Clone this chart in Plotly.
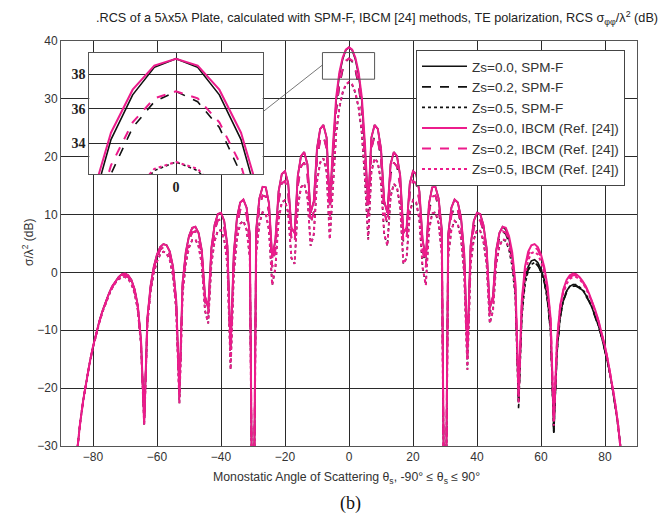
import plotly.graph_objects as go

angles = list(range(-86, 87))

# ---- Zs=0.0, IBCM (pink solid) ----
ibcm_z00 = [
    -36.4, -30.6, -25.9, -21.9, -18.5, -15.5, -12.8,
    -10.5, -8.4, -6.6, -5.0, -3.6, -2.4, -1.5, -0.8, -0.3, -0.2,
    -0.5, -1.3, -2.9, -5.7, -11.7, -25.7, -7.9, -2.3, 1.0, 3.1,
    4.4, 4.9, 4.7, 3.6, 1.0, -4.8, -20.8, -1.8, 3.5, 6.3,
    7.7, 7.9, 6.8, 3.8, -4.1, -6.2, 4.2, 8.2, 10.1, 10.3,
    8.9, 4.6, -13.4, 3.3, 9.5, 12.1, 12.6, 11.2, 6.6, -60,
    7.4, 12.8, 14.8, 14.7, 11.9, 2.5, 5.6, 14.0, 17.0, 17.5,
    15.4, 7.7, 6.8, 16.7, 20.1, 20.8, 18.7, 10.3, 12.3, 21.4,
    24.8, 25.5, 23.3, 11.6, 22.1, 30.3, 34.6, 37.1, 38.5,
    38.9, 38.5, 37.1, 34.6, 30.3, 22.1, 11.6, 23.3, 25.5, 24.8,
    21.4, 12.3, 10.3, 18.7, 20.8, 20.1, 16.7, 6.8, 7.7, 15.4,
    17.5, 17.0, 14.0, 5.6, 2.5, 11.9, 14.7, 14.8, 12.8, 7.4,
    -60, 6.6, 11.2, 12.6, 12.1, 9.5, 3.3, -13.4, 4.6, 8.9,
    10.3, 10.1, 8.2, 4.2, -6.2, -4.1, 3.8, 6.8, 7.9, 7.7,
    6.3, 3.5, -1.8, -20.8, -4.8, 1.0, 3.6, 4.7, 4.9, 4.4,
    3.1, 1.0, -2.3, -7.9, -25.7, -11.7, -5.7, -2.9, -1.3, -0.5,
    -0.2, -0.3, -0.8, -1.5, -2.4, -3.6, -5.0, -6.6, -8.4, -10.5,
    -12.8, -15.5, -18.5, -21.9, -25.9, -30.6, -36.4,
]

# ---- Zs=0.0, SPM-F (black solid) ----
spm_z00 = [
    -36.4, -30.6, -25.9, -21.9, -18.5, -15.5, -12.8,
    -10.5, -8.4, -6.6, -5.0, -3.6, -2.4, -1.5, -0.8, -0.3, -0.2,
    -0.5, -1.3, -2.9, -5.7, -11.7, -25.7, -7.9, -2.3, 1.0, 3.1,
    4.4, 4.9, 4.7, 3.6, 1.0, -4.8, -20.8, -1.8, 3.5, 6.3,
    7.7, 7.9, 6.8, 3.8, -4.1, -6.2, 4.2, 8.2, 10.1, 10.3,
    8.9, 4.6, -13.4, 3.3, 9.5, 12.1, 12.6, 11.2, 6.6, -60,
    7.4, 12.8, 14.8, 14.7, 11.9, 2.5, 5.6, 14.0, 17.0, 17.5,
    15.4, 7.7, 6.8, 16.7, 20.1, 20.8, 18.7, 10.3, 12.3, 21.4,
    24.8, 25.5, 23.3, 11.6, 21.3, 29.7, 34.2, 36.8, 38.4,
    38.9, 38.4, 36.8, 34.2, 29.7, 21.3, 11.6, 23.3, 25.5, 24.8,
    21.4, 12.3, 10.3, 18.7, 20.8, 20.1, 16.7, 6.8, 7.7, 15.4,
    17.5, 17.0, 14.0, 5.6, 2.5, 11.9, 14.7, 14.8, 12.8, 7.4,
    -60, 6.6, 11.2, 12.6, 12.1, 9.5, 3.3, -13.4, 4.6, 8.9,
    10.3, 10.1, 8.2, 4.2, -6.2, -4.1, 3.8, 6.8, 7.9, 7.4,
    5.8, 2.7, -3.0, -22.3, -6.6, -1.1, 1.0, 2.0, 2.2, 1.7,
    0.6, -1.2, -4.4, -9.9, -27.6, -13.5, -7.5, -4.7, -3.2, -2.4,
    -2.1, -2.2, -2.6, -3.1, -3.9, -4.9, -6.2, -7.7, -9.3, -11.3,
    -13.4, -16.0, -18.9, -22.2, -26.1, -30.7, -36.4,
]

# ---- Zs=0.2, IBCM (pink dashed) ----
ibcm_z02 = [
    -36.4, -30.6, -25.9, -21.9, -18.5, -15.5, -12.9,
    -10.5, -8.5, -6.7, -5.1, -3.7, -2.5, -1.6, -0.9, -0.5, -0.5,
    -0.8, -1.6, -3.1, -6.0, -12.1, -26.0, -8.3, -2.7, 0.6, 2.6,
    3.9, 4.4, 4.2, 3.0, 0.4, -5.5, -21.5, -2.5, 2.8, 5.6,
    6.9, 7.1, 6.0, 3.0, -5.0, -7.2, 3.2, 7.2, 9.0, 9.2,
    7.7, 3.5, -14.6, 2.0, 8.2, 10.8, 11.3, 9.9, 5.2, -60,
    5.9, 11.3, 13.3, 13.1, 10.4, 0.9, 4.0, 12.3, 15.4, 15.8,
    13.7, 6.0, 5.1, 14.9, 18.3, 19.0, 16.9, 8.4, 10.5, 19.6,
    22.9, 23.6, 21.4, 9.7, 20.1, 28.4, 32.7, 35.2, 36.6,
    37.0, 36.6, 35.2, 32.7, 28.4, 20.1, 9.7, 21.4, 23.6, 22.9,
    19.6, 10.5, 8.4, 16.9, 19.0, 18.3, 14.9, 5.1, 6.0, 13.7,
    15.8, 15.4, 12.3, 4.0, 0.9, 10.4, 13.1, 13.3, 11.3, 5.9,
    -60, 5.2, 9.9, 11.3, 10.8, 8.2, 2.0, -14.6, 3.5, 7.7,
    9.2, 9.0, 7.2, 3.2, -7.2, -5.0, 3.0, 6.0, 7.1, 6.9,
    5.6, 2.8, -2.5, -21.5, -5.5, 0.4, 3.0, 4.2, 4.4, 3.9,
    2.6, 0.6, -2.7, -8.3, -26.0, -12.1, -6.0, -3.1, -1.6, -0.8,
    -0.5, -0.5, -0.9, -1.6, -2.5, -3.7, -5.1, -6.7, -8.5, -10.5,
    -12.9, -15.5, -18.5, -21.9, -25.9, -30.6, -36.4,
]

# ---- Zs=0.2, SPM-F (black dashed) ----
spm_z02 = [
    -36.4, -30.6, -25.9, -21.9, -18.5, -15.5, -12.9,
    -10.5, -8.5, -6.7, -5.1, -3.7, -2.5, -1.6, -0.9, -0.5, -0.5,
    -0.8, -1.6, -3.1, -6.0, -12.1, -26.0, -8.3, -2.7, 0.6, 2.6,
    3.9, 4.4, 4.2, 3.0, 0.4, -5.5, -21.5, -2.5, 2.8, 5.6,
    6.9, 7.1, 6.0, 3.0, -5.0, -7.2, 3.2, 7.2, 9.0, 9.2,
    7.7, 3.5, -14.6, 2.0, 8.2, 10.8, 11.3, 9.9, 5.2, -60,
    5.9, 11.3, 13.3, 13.1, 10.4, 0.9, 4.0, 12.3, 15.4, 15.8,
    13.7, 6.0, 5.1, 14.9, 18.3, 19.0, 16.9, 8.4, 10.5, 19.6,
    22.9, 23.6, 21.4, 9.7, 19.5, 27.8, 32.2, 34.9, 36.4,
    37.0, 36.4, 34.9, 32.2, 27.8, 19.5, 9.7, 21.4, 23.6, 22.9,
    19.6, 10.5, 8.4, 16.9, 19.0, 18.3, 14.9, 5.1, 6.0, 13.7,
    15.8, 15.4, 12.3, 4.0, 0.9, 10.4, 13.1, 13.3, 11.3, 5.9,
    -60, 5.2, 9.9, 11.3, 10.8, 8.2, 2.0, -14.6, 3.5, 7.7,
    9.2, 9.0, 7.2, 3.2, -7.2, -5.0, 3.0, 6.0, 7.1, 6.6,
    5.1, 2.0, -3.7, -23.0, -7.3, -1.7, 0.4, 1.5, 1.7, 1.2,
    0.1, -1.6, -4.8, -10.3, -27.9, -13.9, -7.8, -4.9, -3.5, -2.7,
    -2.4, -2.4, -2.7, -3.2, -4.0, -5.0, -6.3, -7.7, -9.4, -11.3,
    -13.5, -16.0, -18.9, -22.2, -26.1, -30.7, -36.4,
]

# ---- Zs=0.5, IBCM (pink dotted) ----
ibcm_z05 = [
    -36.4, -30.7, -25.9, -22.0, -18.6, -15.6, -13.0,
    -10.6, -8.6, -6.8, -5.2, -3.9, -2.7, -1.8, -1.2, -0.8, -0.8,
    -1.1, -2.0, -3.6, -6.5, -12.5, -26.5, -8.9, -3.3, -0.1, 1.9,
    3.1, 3.6, 3.3, 2.1, -0.6, -6.5, -22.6, -3.7, 1.6, 4.3,
    5.6, 5.7, 4.5, 1.4, -6.6, -8.8, 1.5, 5.4, 7.2, 7.3,
    5.7, 1.4, -16.8, -0.2, 5.9, 8.4, 8.9, 7.4, 2.6, -60,
    3.2, 8.5, 10.4, 10.2, 7.3, -2.2, 0.8, 9.1, 12.1, 12.5,
    10.3, 2.5, 1.5, 11.3, 14.7, 15.3, 13.1, 4.6, 6.6, 15.7,
    19.0, 19.7, 17.4, 5.7, 16.1, 24.3, 28.6, 31.1, 32.5,
    32.9, 32.5, 31.1, 28.6, 24.3, 16.1, 5.7, 17.4, 19.7, 19.0,
    15.7, 6.6, 4.6, 13.1, 15.3, 14.7, 11.3, 1.5, 2.5, 10.3,
    12.5, 12.1, 9.1, 0.8, -2.2, 7.3, 10.2, 10.4, 8.5, 3.2,
    -60, 2.6, 7.4, 8.9, 8.4, 5.9, -0.2, -16.8, 1.4, 5.7,
    7.3, 7.2, 5.4, 1.5, -8.8, -6.6, 1.4, 4.5, 5.7, 5.6,
    4.3, 1.6, -3.7, -22.6, -6.5, -0.6, 2.1, 3.3, 3.6, 3.1,
    1.9, -0.1, -3.3, -8.9, -26.5, -12.5, -6.5, -3.6, -2.0, -1.1,
    -0.8, -0.8, -1.2, -1.8, -2.7, -3.9, -5.2, -6.8, -8.6, -10.6,
    -13.0, -15.6, -18.6, -22.0, -25.9, -30.7, -36.4,
]

# ---- Zs=0.5, SPM-F (black dotted) ----
spm_z05 = [
    -36.4, -30.7, -25.9, -22.0, -18.6, -15.6, -13.0,
    -10.6, -8.6, -6.8, -5.2, -3.9, -2.7, -1.8, -1.2, -0.8, -0.8,
    -1.1, -2.0, -3.6, -6.5, -12.5, -26.5, -8.9, -3.3, -0.1, 1.9,
    3.1, 3.6, 3.3, 2.1, -0.6, -6.5, -22.6, -3.7, 1.6, 4.3,
    5.6, 5.7, 4.5, 1.4, -6.6, -8.8, 1.5, 5.4, 7.2, 7.3,
    5.7, 1.4, -16.8, -0.2, 5.9, 8.4, 8.9, 7.4, 2.6, -60,
    3.2, 8.5, 10.4, 10.2, 7.3, -2.2, 0.8, 9.1, 12.1, 12.5,
    10.3, 2.5, 1.5, 11.3, 14.7, 15.3, 13.1, 4.6, 6.6, 15.7,
    19.0, 19.7, 17.4, 5.7, 15.8, 24.0, 28.4, 31.0, 32.4,
    32.9, 32.4, 31.0, 28.4, 24.0, 15.8, 5.7, 17.4, 19.7, 19.0,
    15.7, 6.6, 4.6, 13.1, 15.3, 14.7, 11.3, 1.5, 2.5, 10.3,
    12.5, 12.1, 9.1, 0.8, -2.2, 7.3, 10.2, 10.4, 8.5, 3.2,
    -60, 2.6, 7.4, 8.9, 8.4, 5.9, -0.2, -16.8, 1.4, 5.7,
    7.3, 7.2, 5.4, 1.5, -8.8, -6.6, 1.4, 4.5, 5.7, 5.4,
    3.9, 1.0, -4.5, -23.6, -7.8, -2.1, 0.3, 1.4, 1.7, 1.2,
    0.1, -1.6, -4.8, -10.3, -27.8, -13.8, -7.8, -4.9, -3.3, -2.4,
    -2.1, -2.1, -2.5, -2.9, -3.7, -4.8, -6.0, -7.5, -9.2, -11.2,
    -13.4, -16.0, -18.9, -22.2, -26.0, -30.7, -36.4,
]

x_ticks = [-80, -60, -40, -20, 0, 20, 40, 60, 80]
y_ticks = [-30, -20, -10, 0, 10, 20, 30, 40]
inset_y_ticks = [34, 36, 38]
inset_x_ticks = [0]

PINK = "#EC1C8C"
BLACK = "#111111"

series = [
    ("Zs=0.0, SPM-F", spm_z00, BLACK, "solid", 1.6),
    ("Zs=0.2, SPM-F", spm_z02, BLACK, "dash", 1.6),
    ("Zs=0.5, SPM-F", spm_z05, BLACK, "dot", 1.6),
    ("Zs=0.0, IBCM (Ref. [24])", ibcm_z00, PINK, "solid", 2.0),
    ("Zs=0.2, IBCM (Ref. [24])", ibcm_z02, PINK, "dash", 2.0),
    ("Zs=0.5, IBCM (Ref. [24])", ibcm_z05, PINK, "dot", 2.0),
]

for _, ys, *_ in series:
    assert len(ys) == len(angles), len(ys)

fig = go.Figure()
for name, ys, col, dash, w in series:
    fig.add_trace(go.Scatter(x=angles, y=ys, mode="lines", name=name,
                             line=dict(color=col, dash=dash, width=w),
                             xaxis="x", yaxis="y"))
for name, ys, col, dash, w in series:
    fig.add_trace(go.Scatter(x=angles, y=ys, mode="lines", name=name,
                             line=dict(color=col, dash=dash, width=w),
                             xaxis="x2", yaxis="y2", showlegend=False))

L, R, T, B = 61, 25, 41, 72
W, H = 662, 518
pw, ph = W - L - R, H - T - B

def px(x):
    return (x - L) / pw

def py(y):
    return (H - B - y) / ph

grid = "#2a2a2a"
frame = "#555555"
tickfont = dict(family="Liberation Sans, Arial, sans-serif", size=12, color="#333333")
insetfont = dict(family="Liberation Serif, Times New Roman, serif",
                 size=14, color="#222222", weight="bold")

fig.update_layout(
    width=W, height=H,
    margin=dict(l=L, r=R, t=T, b=B),
    paper_bgcolor="white", plot_bgcolor="white",
    showlegend=True,
    xaxis=dict(range=[-90, 90], tickvals=x_ticks, showgrid=True, gridcolor=grid,
               gridwidth=1, zeroline=False, showline=True, mirror=True,
               linecolor=frame, linewidth=1, ticks="", tickfont=tickfont,
               domain=[0, 1]),
    yaxis=dict(range=[-30, 40], tickvals=y_ticks, showgrid=True, gridcolor=grid,
               gridwidth=1, zeroline=False, showline=True, mirror=True,
               linecolor=frame, linewidth=1, ticks="", tickfont=tickfont,
               domain=[0, 1]),
    xaxis2=dict(range=[-4, 4], tickvals=inset_x_ticks, showgrid=True, gridcolor=grid,
                zeroline=False, showline=True, mirror=True, linecolor=frame,
                linewidth=1, ticks="", anchor="y2",
                domain=[px(89.3), px(262.7)], tickfont=insetfont),
    yaxis2=dict(range=[32.2, 39.25], tickvals=inset_y_ticks, showgrid=True,
                gridcolor=grid, zeroline=False, showline=True, mirror=True,
                linecolor=frame, linewidth=1, ticks="", anchor="x2",
                domain=[py(174), py(52.7)], tickfont=insetfont),
    legend=dict(x=px(416), y=py(50), xanchor="left", yanchor="top",
                bgcolor="white", bordercolor="#444444", borderwidth=1,
                font=dict(family="Liberation Sans, Arial, sans-serif", size=13.5,
                          color="#333333"),
                itemwidth=45, tracegroupgap=0),
    shapes=[
        dict(type="rect", xref="x2 domain", yref="y2 domain", x0=0, x1=1, y0=0, y1=1,
             fillcolor="#F8F8EE", line=dict(width=0), layer="below"),
        dict(type="rect", xref="x", yref="y", x0=-8.3, x1=8.0, y0=33.4, y1=38.0,
             line=dict(color="#555555", width=1), layer="above"),
        dict(type="line", xref="x", yref="y", x0=-26.6, y0=27.9, x1=-8.3, y1=35.85,
             line=dict(color="#555555", width=0.8), layer="above"),
    ],
    annotations=[
        dict(text=".RCS of a 5λx5λ Plate, calculated with SPM-F, IBCM [24] methods, TE polarization, RCS σ<sub>φφ</sub>/λ<sup>2</sup> (dB)",
             xref="paper", yref="paper", x=px(377), y=py(18), xanchor="center",
             yanchor="middle", showarrow=False,
             font=dict(family="Liberation Sans, Arial, sans-serif", size=12.7, color="#222222")),
        dict(text="Monostatic Angle of Scattering θ<sub>s</sub>, -90° ≤ θ<sub>s</sub> ≤ 90°",
             xref="paper", yref="paper", x=px(346.5), y=py(478), xanchor="center",
             yanchor="middle", showarrow=False,
             font=dict(family="Liberation Sans, Arial, sans-serif", size=12.3, color="#333333")),
        dict(text="σ/λ<sup>2</sup> (dB)", textangle=-90,
             xref="paper", yref="paper", x=px(28), y=py(243), xanchor="center",
             yanchor="middle", showarrow=False,
             font=dict(family="Liberation Sans, Arial, sans-serif", size=12, color="#333333")),
        dict(text="(b)", xref="paper", yref="paper", x=px(350), y=py(503),
             xanchor="center", yanchor="middle", showarrow=False,
             font=dict(family="Liberation Serif, Times New Roman, serif", size=18, color="#111111")),
    ],
)

fig.write_html("out.html", config={"displayModeBar": False})

# remove the default page margin so the figure sits at the window's top-left corner
with open("out.html", "r", encoding="utf-8") as f:
    html = f.read()
html = html.replace("<head>", "<head><style>html,body{margin:0;padding:0;overflow:hidden;}</style>", 1)
with open("out.html", "w", encoding="utf-8") as f:
    f.write(html)
